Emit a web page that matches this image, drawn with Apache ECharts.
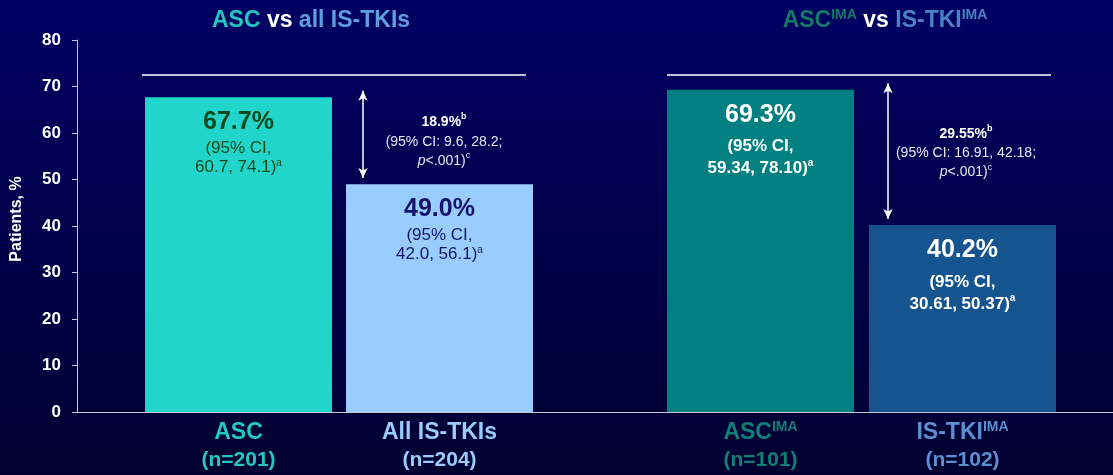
<!DOCTYPE html>
<html>
<head>
<meta charset="utf-8">
<script src="https://cdn.jsdelivr.net/npm/echarts@6/dist/echarts.min.js"></script>
<style>
  html, body { margin: 0; padding: 0; background: #000048; }
  #chart { width: 1113px; height: 475px; }
</style>
</head>
<body>
<div id="chart"></div>
<script>
// ---- Data ----
const yTicks = [0, 10, 20, 30, 40, 50, 60, 70, 80];

// Panel 1: ASC vs all IS-TKIs
const allNames = ['ASC', 'All IS-TKIs'];
const allN = [201, 204];
const allRates = [67.7, 49.0];
const allCI = [['60.7', '74.1'], ['42.0', '56.1']];
const allDiff = { value: '18.9%', low: '9.6', high: '28.2', p: '.001' };

// Panel 2: imatinib-eligible subgroup
const imaNames = ['ASC', 'IS-TKI'];
const imaN = [101, 102];
const imaRates = [69.3, 40.2];
const imaCI = [['59.34', '78.10'], ['30.61', '50.37']];
const imaDiff = { value: '29.55%', low: '16.91', high: '42.18', p: '.001' };

// Level of the bracket line drawn over each pair of bars
const bracketLevel = 72.5;

// ---- Styling ----
const FONT = '"Liberation Sans", Arial, sans-serif';
const allBarColors = ['#22d5ca', '#99ccff'];
const allTextColors = ['#0b4a1c', '#14146e'];
const allCatColors = ['#22c9bd', '#99ccff'];
const imaBarColors = ['#008080', '#16548f'];
const imaCatColors = ['#0e8078', '#5b8fd0'];

const chart = echarts.init(document.getElementById('chart'));

function barLabelRich(color, bold, bigLH, ciLH) {
  return {
    big: { fontFamily: FONT, fontSize: 25, fontWeight: 'bold', color: color, lineHeight: bigLH, align: 'center' },
    ci: { fontFamily: FONT, fontSize: 17, fontWeight: bold ? 'bold' : 'normal', color: color, lineHeight: ciLH },
    sup: { fontFamily: FONT, fontSize: 10, fontWeight: bold ? 'bold' : 'normal', color: color, lineHeight: ciLH, verticalAlign: 'top', padding: [0, 0, 8, 0] }
  };
}

function catLabelRich(colors) {
  const rich = {};
  colors.forEach((c, i) => {
    rich['n' + i] = { fontFamily: FONT, fontSize: 23, fontWeight: 'bold', color: c, lineHeight: 26 };
    rich['s' + i] = { fontFamily: FONT, fontSize: 14, fontWeight: 'bold', color: c, lineHeight: 26, verticalAlign: 'top', padding: [0, 0, 9, 0] };
    rich['c' + i] = { fontFamily: FONT, fontSize: 21, fontWeight: 'bold', color: c, lineHeight: 28 };
  });
  return rich;
}

function diffLabel(d) {
  return '{v|' + d.value + '}{s|b}\n{t|(95% CI: ' + d.low + ', ' + d.high + ';}\n{i|p}{t|<' + d.p + ')}{s2|c}';
}

const diffRich = {
  v: { fontFamily: FONT, fontSize: 14, fontWeight: 'bold', color: '#ffffff', lineHeight: 20 },
  s: { fontFamily: FONT, fontSize: 9, fontWeight: 'bold', color: '#ffffff', lineHeight: 20, verticalAlign: 'top', padding: [0, 0, 6, 0] },
  t: { fontFamily: FONT, fontSize: 14, color: '#e6e6f0', lineHeight: 19 },
  i: { fontFamily: FONT, fontSize: 14, fontStyle: 'italic', color: '#e6e6f0', lineHeight: 19 },
  s2: { fontFamily: FONT, fontSize: 9, color: '#e6e6f0', lineHeight: 19, verticalAlign: 'top', padding: [0, 0, 6, 0] }
};

function arrowAndBracket(rates, arrowX, bracketX0, bracketX1, textX, textShift, d) {
  const hi = Math.max(rates[0], rates[1]);
  const lo = Math.min(rates[0], rates[1]);
  return {
    markLine: {
      silent: true,
      animation: false,
      label: { show: false },
      data: [
        [
          { coord: [0, hi + 1.4], x: arrowX, symbol: 'arrow', symbolSize: [7, 10] },
          { coord: [0, lo + 1.3], x: arrowX, symbol: 'arrow', symbolSize: [7, 10] }
        ],
        [
          { coord: [0, bracketLevel], x: bracketX0, symbol: 'none' },
          { coord: [1, bracketLevel], x: bracketX1, symbol: 'none' }
        ]
      ],
      lineStyle: { color: '#ffffff', width: 1.5, type: 'solid' }
    },
    markPoint: {
      silent: true,
      animation: false,
      symbol: 'rect',
      symbolSize: 0,
      data: [{ coord: [0, (hi + lo + 2.7) / 2 - textShift], x: textX }],
      label: {
        show: true,
        position: 'inside',
        align: 'center',
        verticalAlign: 'middle',
        formatter: () => diffLabel(d),
        rich: diffRich
      }
    }
  };
}

const hiddenY = (idx) => ({
  type: 'value', gridIndex: idx, min: 0, max: 80, interval: 10,
  show: false
});

const titleFont = { fontFamily: FONT, fontSize: 23, fontWeight: 'bold', lineHeight: 26 };
const supFont = { fontFamily: FONT, fontSize: 14, fontWeight: 'bold', lineHeight: 26, verticalAlign: 'top', padding: [0, 0, 9, 0] };

const option = {
  animation: false,
  backgroundColor: {
    type: 'linear', x: 0, y: 0, x2: 0, y2: 1,
    colorStops: [
      { offset: 0, color: '#000064' },
      { offset: 1, color: '#000030' }
    ]
  },
  textStyle: { fontFamily: FONT },
  graphic: [
    {
      type: 'text', x: 311, y: 21,
      style: {
        text: '{a|ASC }{w|vs }{b|all IS-TKIs}',
        align: 'center', verticalAlign: 'middle',
        rich: {
          a: Object.assign({ fill: '#22c8c0' }, titleFont),
          w: Object.assign({ fill: '#ffffff' }, titleFont),
          b: Object.assign({ fill: '#5d9fdd' }, titleFont)
        }
      }
    },
    {
      type: 'text', x: 885, y: 21,
      style: {
        text: '{a|ASC}{as|IMA}{w| vs }{b|IS-TKI}{bs|IMA}',
        align: 'center', verticalAlign: 'middle',
        rich: {
          a: Object.assign({ fill: '#137a68' }, titleFont),
          as: Object.assign({ fill: '#137a68' }, supFont),
          w: Object.assign({ fill: '#ffffff' }, titleFont),
          b: Object.assign({ fill: '#4a82c2' }, titleFont),
          bs: Object.assign({ fill: '#4a82c2' }, supFont)
        }
      }
    }
  ],
  grid: [
    { left: 77, right: 0, top: 40, bottom: 63 },
    { left: 138, width: 402, top: 40, bottom: 63 },
    { left: 659.5, width: 404, top: 40, bottom: 63 }
  ],
  xAxis: [
    {
      type: 'value', gridIndex: 0, min: 0, max: 1,
      axisLine: { show: true, lineStyle: { color: '#c8c8d8', width: 1 } },
      axisTick: { show: false }, axisLabel: { show: false }, splitLine: { show: false }
    },
    {
      type: 'category', gridIndex: 1, data: allNames,
      axisLine: { show: false }, axisTick: { show: false }, splitLine: { show: false },
      axisLabel: {
        margin: 8,
        interval: 0,
        formatter: (v, i) => '{n' + i + '|' + v + '}\n{c' + i + '|(n=' + allN[i] + ')}',
        rich: catLabelRich(allCatColors)
      }
    },
    {
      type: 'category', gridIndex: 2, data: imaNames,
      axisLine: { show: false }, axisTick: { show: false }, splitLine: { show: false },
      axisLabel: {
        margin: 8,
        interval: 0,
        formatter: (v, i) => '{n' + i + '|' + v + '}{s' + i + '|IMA}\n{c' + i + '|(n=' + imaN[i] + ')}',
        rich: catLabelRich(imaCatColors)
      }
    }
  ],
  yAxis: [
    {
      type: 'value', gridIndex: 0, min: yTicks[0], max: yTicks[yTicks.length - 1], interval: 10,
      name: 'Patients, %',
      nameLocation: 'middle',
      nameRotate: 90,
      nameGap: 52,
      nameTextStyle: { color: '#ffffff', fontSize: 16, fontWeight: 'bold', fontFamily: FONT, padding: [0, 0, 0, 14] },
      axisLine: { show: true, lineStyle: { color: '#c8c8d8', width: 1 } },
      axisTick: { show: true, length: 5, lineStyle: { color: '#c8c8d8' } },
      axisLabel: { color: '#ffffff', fontSize: 17, fontWeight: 'bold', fontFamily: FONT, margin: 16 },
      splitLine: { show: false }
    },
    hiddenY(1),
    hiddenY(2)
  ],
  series: [
    Object.assign({
      type: 'bar',
      xAxisIndex: 1, yAxisIndex: 1,
      barWidth: 187,
      data: allRates.map((v, i) => ({ value: v, itemStyle: { color: allBarColors[i] } })),
      label: {
        show: true,
        position: 'insideTop',
        distance: 7,
        align: 'center',
        formatter: (p) => '{big|' + p.value.toFixed(1) + '%}\n{ci|(95% CI,}\n{ci|' + allCI[p.dataIndex][0] + ', ' + allCI[p.dataIndex][1] + ')}{sup|a}',
        rich: barLabelRich(allTextColors[0], false, 35, 19)
      }
    }, arrowAndBracket(allRates, 363, 142, 526, 444, 1.5, allDiff)),
    Object.assign({
      type: 'bar',
      xAxisIndex: 2, yAxisIndex: 2,
      barWidth: 187,
      data: imaRates.map((v, i) => ({ value: v, itemStyle: { color: imaBarColors[i] } })),
      label: {
        show: true,
        position: 'insideTop',
        distance: 5,
        align: 'center',
        formatter: (p) => '{big|' + p.value.toFixed(1) + '%}\n{ci|(95% CI,}\n{ci|' + imaCI[p.dataIndex][0] + ', ' + imaCI[p.dataIndex][1] + ')}{sup|a}',
        rich: barLabelRich('#ffffff', true, 41, 22)
      }
    }, arrowAndBracket(imaRates, 888, 667, 1051, 966, 0.4, imaDiff))
  ]
};

// Second bar of the first panel uses a navy label colour
option.series[0].data[1].label = {
  rich: barLabelRich(allTextColors[1], false, 35, 19)
};

chart.setOption(option);
</script>
</body>
</html>
